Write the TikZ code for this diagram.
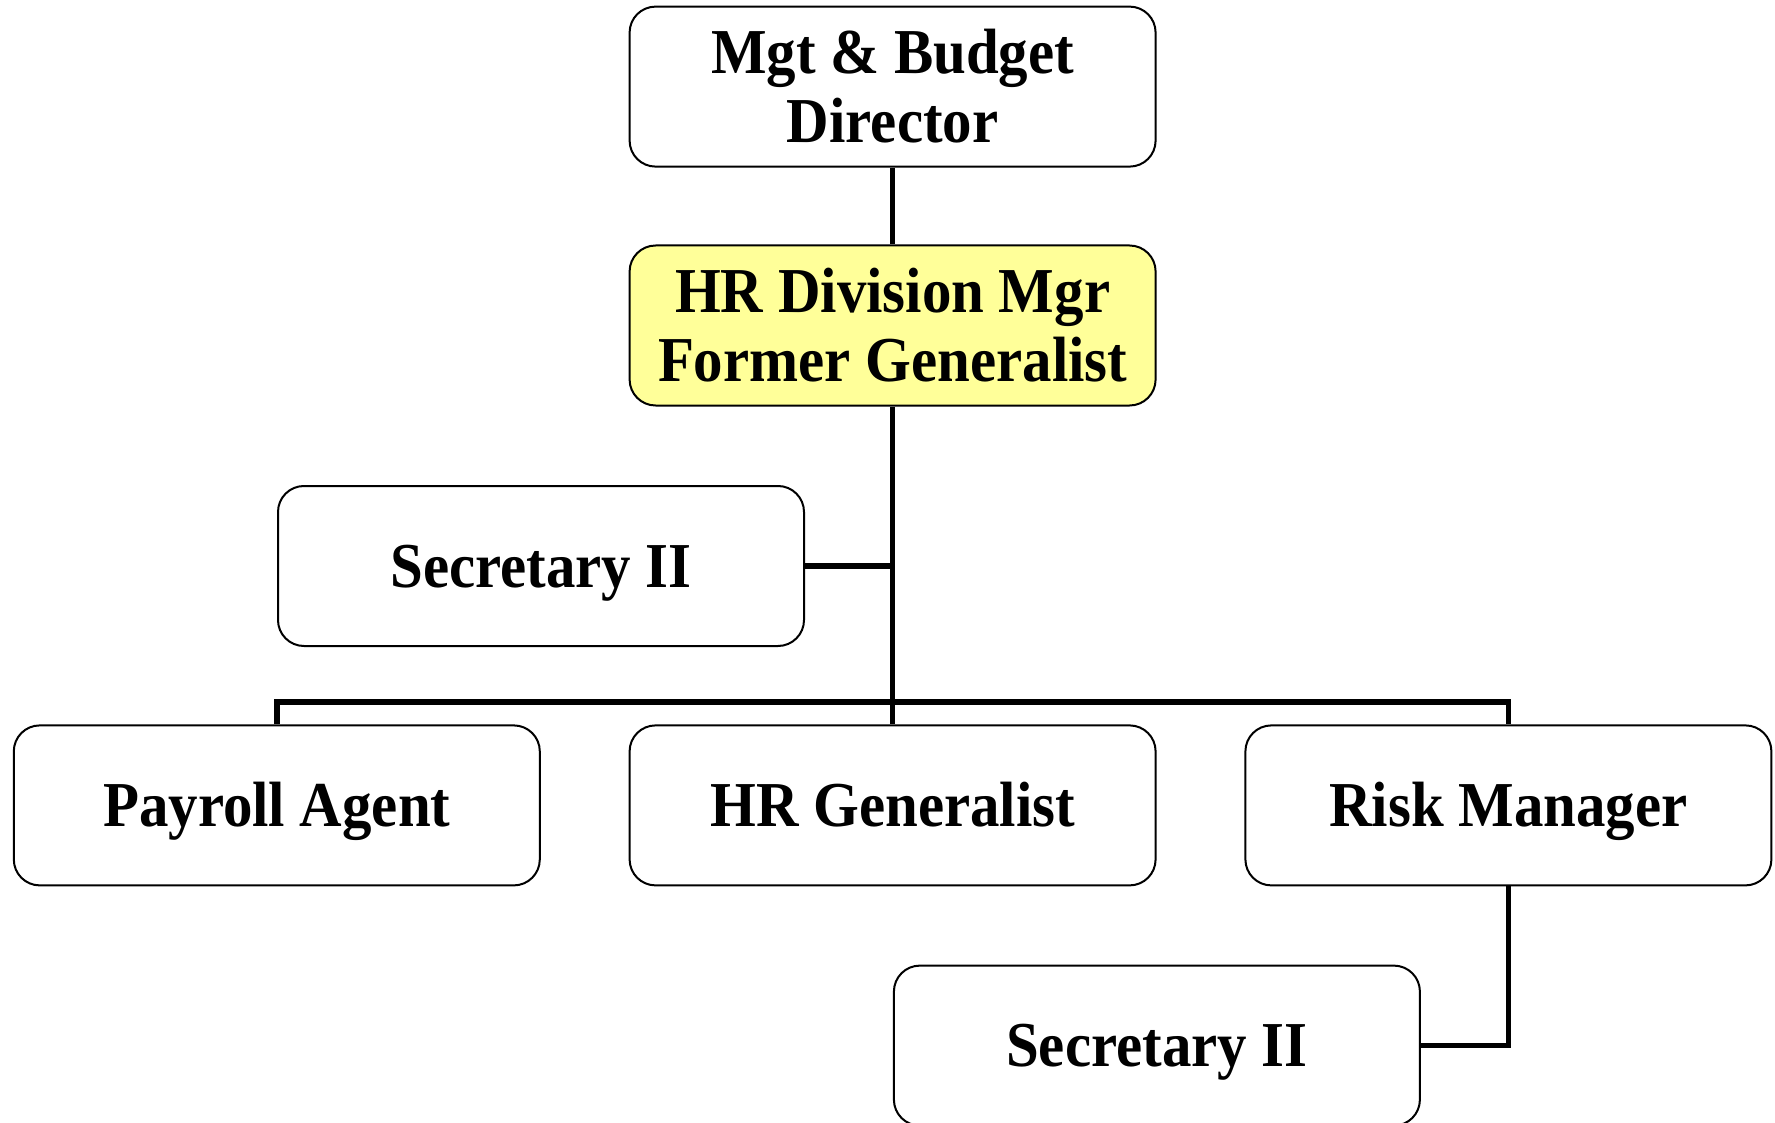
\documentclass[tikz,border=0pt]{standalone}
\usepackage{fontspec}
\setmainfont{Liberation Serif}[FakeStretch=0.92]
\begin{document}
\begin{tikzpicture}[x=1pt,y=1pt,
  box/.style={draw=black, line width=2pt, rounded corners=26pt, fill=white,
    minimum width=526pt, minimum height=160pt, inner sep=0pt, align=center,
    font=\fontsize{64}{69}\selectfont\bfseries},
  single/.style={text height=42pt, text depth=0pt},
  conn/.style={draw=black, line width=5.5pt, line join=miter}]
\clip (0,0) rectangle (1775,-1123);
\useasboundingbox (0,0) rectangle (1775,-1123);
\node[box] (mgt) at (892.6,-86.6) {Mgt \& Budget\\Director};
\node[box, fill={rgb,255:red,255;green,255;blue,153}] (hr) at (892.6,-325.5) {HR Division Mgr\\Former Generalist};
\node[box, single] (sec1) at (541,-566) {Secretary II};
\node[box, single] (pay) at (276.8,-805.4) {Payroll Agent};
\node[box, single] (hrgen) at (892.6,-805.4) {HR Generalist};
\node[box, single] (risk) at (1508.4,-805.4) {Risk Manager};
\node[box, single] (sec2) at (1156.9,-1045.6) {Secretary II};
\coordinate (bar) at (892.6,-702);
\draw[conn] (mgt.south) -- (hr.north);
\draw[conn] (hr.south) -- (hrgen.north);
\draw[conn] (sec1.east) -- (sec1.east -| hr.south);
\draw[conn] (pay.north) |- (bar) -| (risk.north);
\draw[conn] (risk.south) |- (sec2.east);
\end{tikzpicture}
\end{document}
